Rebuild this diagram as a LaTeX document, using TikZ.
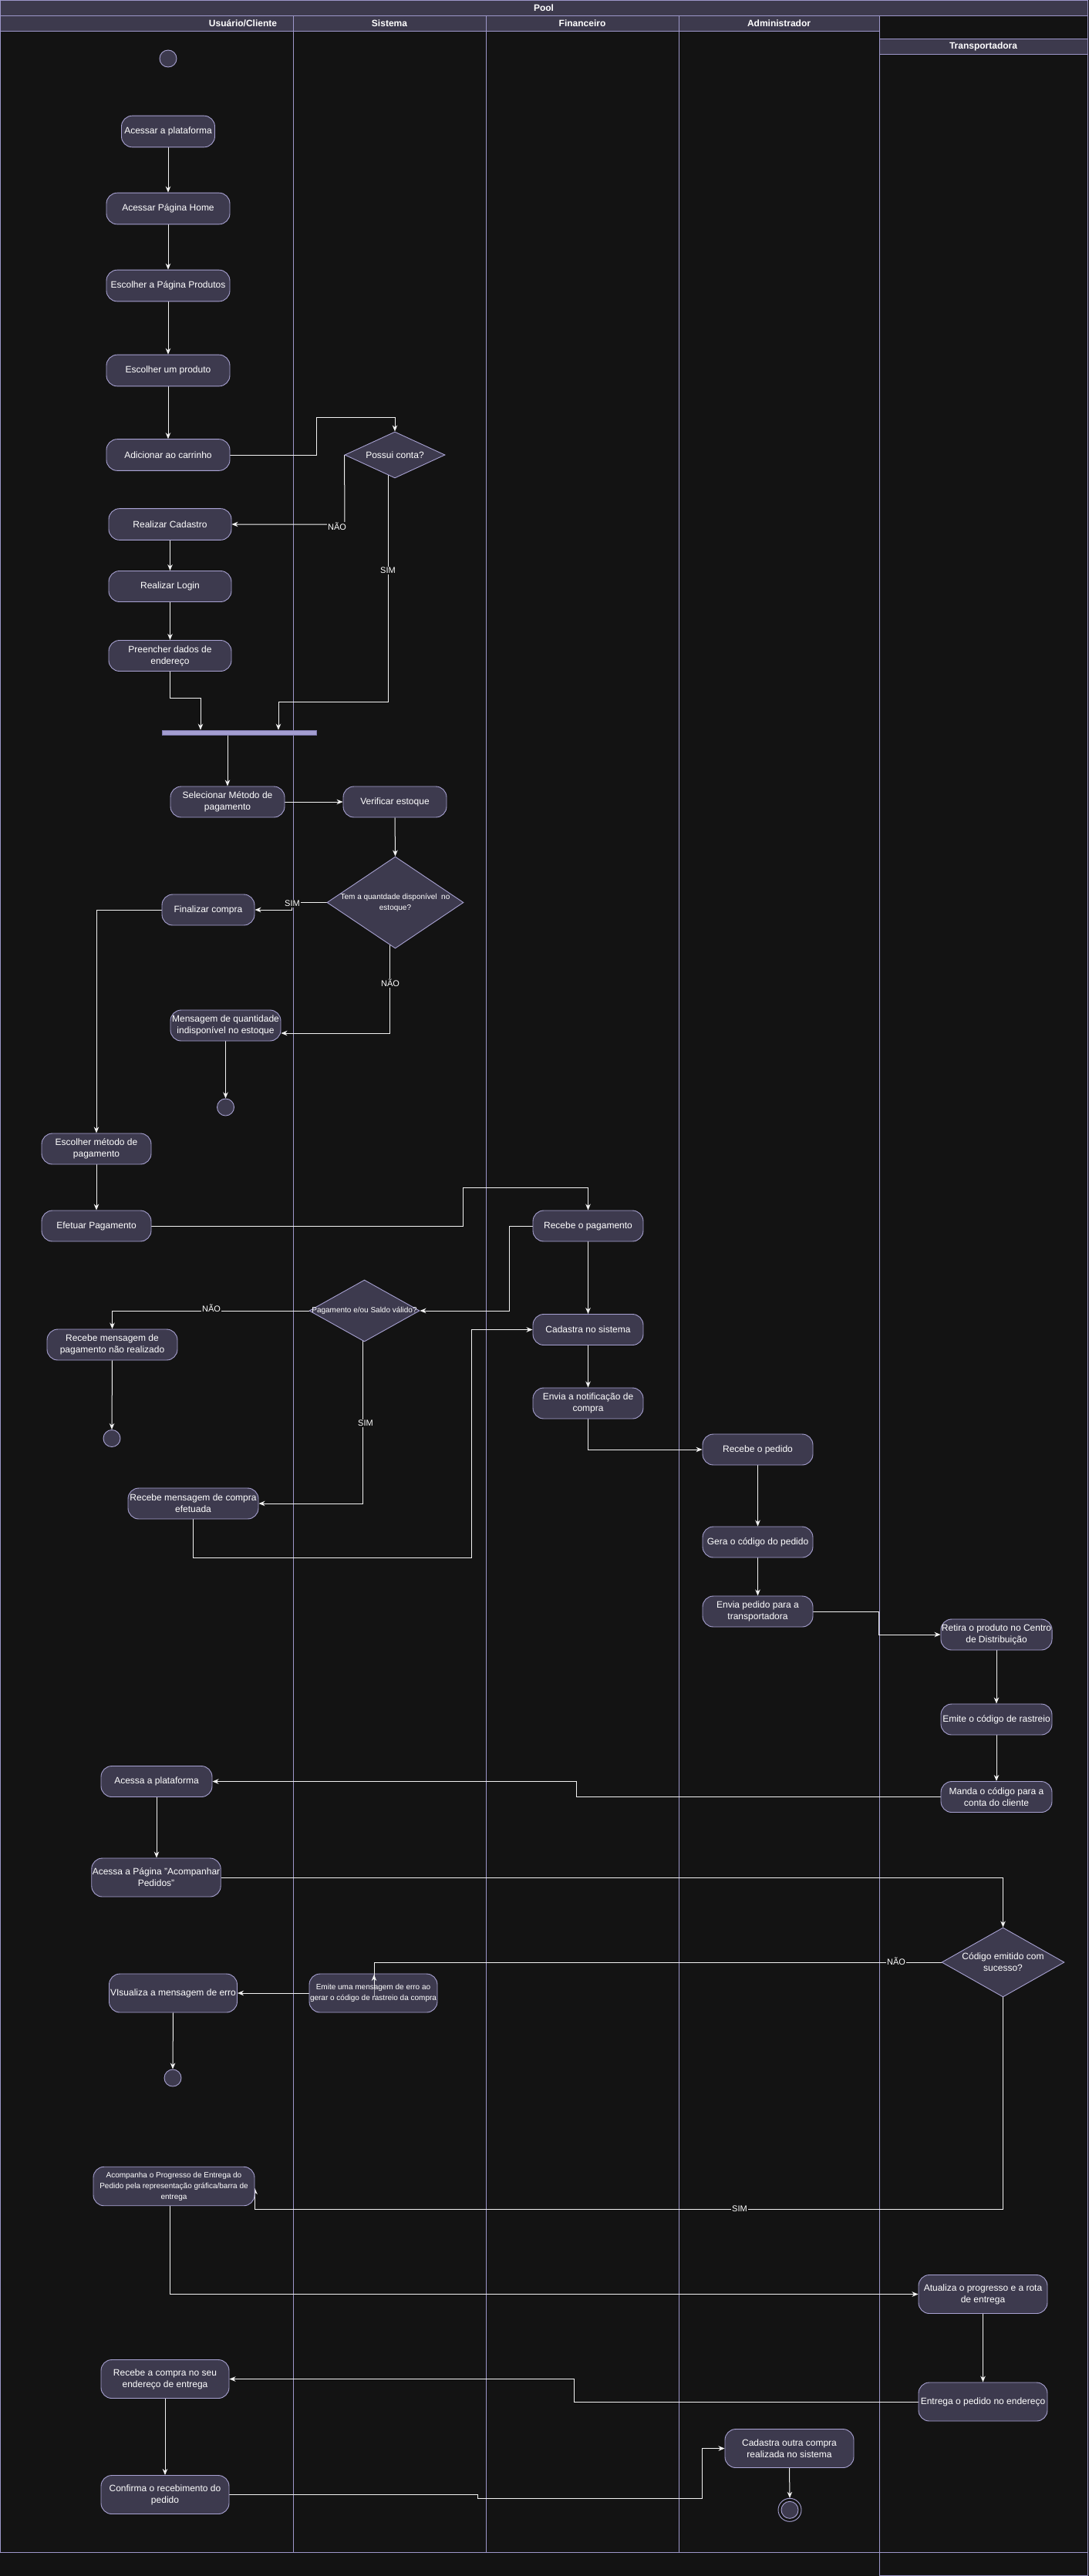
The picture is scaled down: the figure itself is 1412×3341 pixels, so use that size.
\documentclass[tikz,border=0pt]{standalone}
\usepackage{fontspec}
\setmainfont{Liberation Sans}
\usetikzlibrary{shapes.geometric,arrows.meta}
\definecolor{bgc}{HTML}{131313}
\definecolor{hdr}{HTML}{3D3A4D}
\definecolor{lanec}{HTML}{9D97CA}
\definecolor{nodef}{HTML}{3D3A4E}
\definecolor{nodeb}{HTML}{A8A2D2}
\definecolor{arrc}{HTML}{F2F2F2}
\definecolor{barc}{HTML}{A39DD0}
\definecolor{barb}{HTML}{7E78AE}
\pgfdeclarelayer{lanes}
\pgfdeclarelayer{edges}
\pgfsetlayers{lanes,edges,main}
\begin{document}
\begin{tikzpicture}[x=1pt,y=-1pt,
  act/.style={draw=nodeb,fill=nodef,rounded corners=14pt,text=white,align=center,
    font=\fontsize{12}{15}\selectfont,inner sep=1pt,line width=0.9pt},
  smalltxt/.style={font=\fontsize{10}{14}\selectfont},
  dec/.style={diamond,draw=nodeb,fill=nodef,inner sep=0pt,line width=0.9pt},
  dtext/.style={text=white,align=center,inner sep=0pt,font=\fontsize{12}{15}\selectfont},
  dot/.style={circle,draw=nodeb,fill=nodef,minimum size=22pt,inner sep=0pt,line width=0.9pt},
  arr/.style={draw=arrc,line width=1pt,-{Stealth[length=8pt,width=6.5pt,inset=2.5pt]}},
  lbl/.style={fill=bgc,text=white,font=\fontsize{11}{13}\selectfont,inner sep=1pt},
  lanel/.style={draw=lanec,line width=1pt},
  hdrtxt/.style={text=white,font=\bfseries\fontsize{12}{14}\selectfont,inner sep=0pt}]
\useasboundingbox (0,0) rectangle (1412,3341);

% ---------- swimlanes ----------
\begin{pgfonlayer}{lanes}
\fill[bgc] (0,0) rectangle (1412,3341);
\draw[lanel] (0,0) rectangle (1410,3310);
\draw[lanel,fill=hdr] (0,0) rectangle (1410,20.7);
\draw[lanel,fill=hdr] (0,20.7) rectangle (380,40.7);
\draw[lanel,fill=hdr] (380,20.7) rectangle (630,40.7);
\draw[lanel,fill=hdr] (630,20.7) rectangle (880,40.7);
\draw[lanel,fill=hdr] (880,20.7) rectangle (1140,40.7);
\draw[lanel] (380,40.7) -- (380,3310);
\draw[lanel] (630,40.7) -- (630,3310);
\draw[lanel] (880,40.7) -- (880,3310);
\draw[lanel] (1140,20.7) -- (1140,3340);
\draw[lanel,fill=hdr] (1140,50.7) rectangle (1410,70.7);
\draw[lanel] (1140,70.7) rectangle (1410,3340);
\end{pgfonlayer}
\node[hdrtxt] (hpool) at (705,10.3) {Pool};
\node[hdrtxt] (hcli) at (315,30.7) {Usuário/Cliente};
\node[hdrtxt] (hsis) at (505,30.7) {Sistema};
\node[hdrtxt] (hfin) at (755,30.7) {Financeiro};
\node[hdrtxt] (hadm) at (1010,30.7) {Administrador};
\node[hdrtxt] (htra) at (1275,60.7) {Transportadora};

% ---------- nodes ----------
\node[dot] (start1) at (218,76) {};
\node[act,minimum width=121pt,minimum height=40.7pt] (n1) at (218,170.5) {Acessar a plataforma};
\node[act,minimum width=160pt,minimum height=40.7pt] (n2) at (218,270.5) {Acessar Página Home};
\node[act,minimum width=160pt,minimum height=40.7pt] (n3) at (218,370.5) {Escolher a Página Produtos};
\node[act,minimum width=160pt,minimum height=40.7pt] (n4) at (218,480.5) {Escolher um produto};
\node[act,minimum width=160pt,minimum height=40.7pt] (n5) at (218,590) {Adicionar ao carrinho};
\node[dec,minimum width=130pt,minimum height=60pt] (d1) at (512,590) {};
\node[dtext] (d1t) at (d1) {Possui conta?};
\node[act,minimum width=159pt,minimum height=40.7pt] (n6) at (220.5,680) {Realizar Cadastro};
\node[act,minimum width=159pt,minimum height=40pt] (n7) at (220.5,760.5) {Realizar Login};
\node[act,minimum width=159pt,minimum height=40pt] (n8) at (220.5,850.5) {Preencher dados de\\endereço};
\node[fill=barc,draw=barb,minimum width=200pt,minimum height=6.5pt,inner sep=0pt] (bar) at (310,950.2) {};
\node[act,minimum width=148pt,minimum height=40pt] (n9) at (295,1040) {Selecionar Método de\\pagamento};
\node[act,minimum width=134pt,minimum height=40pt] (n10) at (512,1040) {Verificar estoque};
\node[dec,minimum width=177pt,minimum height=119pt] (d2) at (512.5,1170.5) {};
\node[dtext,smalltxt] (d2t) at (d2) {Tem a quantdade disponível\ \ no\\estoque?};
\node[act,minimum width=120pt,minimum height=40pt] (n11) at (270,1180) {Finalizar compra};
\node[act,minimum width=143pt,minimum height=40pt] (n12) at (292.5,1330) {Mensagem de quantidade\\indisponível no estoque};
\node[dot] (end1) at (292.5,1436) {};
\node[act,minimum width=142pt,minimum height=40pt] (n13) at (125,1490) {Escolher método de\\pagamento};
\node[act,minimum width=142pt,minimum height=40pt] (n14) at (125,1590) {Efetuar Pagamento};
\node[act,minimum width=143pt,minimum height=40pt] (n15) at (762.5,1590) {Recebe o pagamento};
\node[dec,minimum width=143pt,minimum height=80pt] (d3) at (472.5,1700) {};
\node[dtext,smalltxt] (d3t) at (d3) {Pagamento e/ou Saldo válido?};
\node[act,minimum width=169pt,minimum height=40pt] (n16) at (145.5,1744) {Recebe mensagem de\\pagamento não realizado};
\node[dot] (end2) at (145,1865.5) {};
\node[act,minimum width=169pt,minimum height=40pt] (n17) at (250.5,1950) {Recebe mensagem de compra\\efetuada};
\node[act,minimum width=143pt,minimum height=40pt] (n18) at (762.5,1724.5) {Cadastra no sistema};
\node[act,minimum width=143pt,minimum height=40pt] (n19) at (762.5,1820) {Envia a notificação de\\compra};
\node[act,minimum width=143pt,minimum height=40pt] (n20) at (982.5,1880) {Recebe o pedido};
\node[act,minimum width=143pt,minimum height=40pt] (n21) at (982.5,2000) {Gera o código do pedido};
\node[act,minimum width=143pt,minimum height=40pt] (n22) at (982.5,2090) {Envia pedido para a\\transportadora};
\node[act,minimum width=144pt,minimum height=40pt] (n23) at (1292,2120) {Retira o produto no Centro\\de Distribuição};
\node[act,minimum width=144pt,minimum height=40pt] (n24) at (1292,2230) {Emite o código de rastreio};
\node[act,minimum width=144pt,minimum height=40pt] (n25) at (1292,2330.5) {Manda o código para a\\conta do cliente};
\node[act,minimum width=144pt,minimum height=40pt] (n26) at (203,2310.5) {Acessa a plataforma};
\node[act,minimum width=167pt,minimum height=50pt] (n27) at (202.5,2435) {Acessa a Página "Acompanhar\\Pedidos"};
\node[dec,minimum width=159pt,minimum height=90pt] (d4) at (1300.5,2545) {};
\node[dtext] (d4t) at (d4) {Código emitido com\\sucesso?};
\node[act,smalltxt,minimum width=166pt,minimum height=50pt] (n28) at (484,2585) {Emite uma mensagem de erro ao\\gerar o código de rastreio da compra};
\node[act,minimum width=166pt,minimum height=50pt] (n29) at (224.5,2585) {VIsualiza a mensagem de erro};
\node[dot] (end3) at (224,2695) {};
\node[act,smalltxt,minimum width=209pt,minimum height=50.5pt] (n30) at (225.5,2835.5) {Acompanha o Progresso de Entrega do\\Pedido pela representação gráfica/barra de\\entrega};
\node[act,minimum width=167pt,minimum height=50pt] (n31) at (1274.5,2975.5) {Atualiza o progresso e a rota\\de entrega};
\node[act,minimum width=167pt,minimum height=50pt] (n32) at (1274.5,3115) {Entrega o pedido no endereço};
\node[act,minimum width=166pt,minimum height=50pt] (n33) at (214,3085.5) {Recebe a compra no seu\\endereço de entrega};
\node[act,minimum width=166pt,minimum height=50pt] (n34) at (214,3235.5) {Confirma o recebimento do\\pedido};
\node[act,minimum width=167pt,minimum height=50pt] (n35) at (1023.5,3175.5) {Cadastra outra compra\\realizada no sistema};
\node[circle,draw=nodeb,line width=0.9pt,minimum size=30pt,inner sep=0pt] (end4) at (1024,3255.3) {};
\node[circle,draw=nodeb,fill=nodef,line width=0.9pt,minimum size=22pt,inner sep=0pt] (end4i) at (end4) {};

% ---------- connectors ----------
\begin{pgfonlayer}{edges}
\draw[arr] (n1.south) -- (n2.north);
\draw[arr] (n2.south) -- (n3.north);
\draw[arr] (n3.south) -- (n4.north);
\draw[arr] (n4.south) -- (n5.north);
\draw[arr] (n5.east) -- (410,590) -- (410,541) -| (d1.north);
\draw[arr] (d1.west) -- (447,680) -- (n6.east);
\draw[arr] (n6.south) -- (n7.north);
\draw[arr] (n7.south) -- (n8.north);
\draw[arr] (n8.south) -- (220.5,905) -- (260,905) -- (bar.north -| 260,0);
\draw[arr] (503,600) -- (503,910) -- (361,910) -- (bar.north -| 361,0);
\draw[arr] (bar.south -| n9.north) -- (n9.north);
\draw[arr] (n9.east) -- (n10.west);
\draw[arr] (n10.south) -- (d2.north);
\draw[arr] (d2.west) -- (378,1170.5) -- (378,1180) -- (n11.east);
\draw[arr] (505,1200) -- (505,1340) -- (n12.east |- 0,1340);
\draw[arr] (n12.south) -- (end1.north);
\draw[arr] (n11.west) -| (n13.north);
\draw[arr] (n13.south) -- (n14.north);
\draw[arr] (n14.east) -- (600,1590) -- (600,1540.6) -| (n15.north);
\draw[arr] (n15.west) -- (660,1590) -- (660,1700) -- (d3.east);
\draw[arr] (d3.west) -| (n16.north);
\draw[arr] (n16.south) -- (end2.north);
\draw[arr] (470,1720) -- (470,1950) -- (n17.east);
\draw[arr] (n17.south) -- (250.5,2020.5) -- (611,2020.5) -- (611,1724.5) -- (n18.west);
\draw[arr] (n15.south) -- (n18.north);
\draw[arr] (n18.south) -- (n19.north);
\draw[arr] (n19.south) |- (n20.west);
\draw[arr] (n20.south) -- (n21.north);
\draw[arr] (n21.south) -- (n22.north);
\draw[arr] (n22.east) -- (1139,2090) -- (1139,2120) -- (n23.west);
\draw[arr] (n23.south) -- (n24.north);
\draw[arr] (n24.south) -- (n25.north);
\draw[arr] (n25.west) -- (747,2330.5) -- (747,2310.5) -- (n26.east);
\draw[arr] (n26.south) -- (n26.south |- n27.north);
\draw[arr] (n27.east) -| (d4.north);
\draw[arr] (n28.west) -- (n29.east);
\draw[arr] (n29.south) -- (end3.north);
\draw[arr] (d4.south) -- (1300.5,2865.6) -- (330.5,2865.6) -- (330.5,2838);
\draw[arr] (n30.south -| 220.6,0) -- (220.6,2975.5) -- (n31.west);
\draw[arr] (n31.south) -- (n32.north);
\draw[arr] (n32.west) -- (744,3115) -- (744,3085.5) -- (n33.east);
\draw[arr] (n33.south) -- (n34.north);
\draw[arr] (n34.east) -- (619.6,3235.5) -- (619.6,3240.4) -- (910,3240.4) -- (910,3175.5) -- (n35.west);
\draw[arr] (n35.south) -- (end4.north);
\end{pgfonlayer}
\draw[arr] (d4.west) -- (485,2545) -- (485,2590) -- (485,2561);

% ---------- edge labels ----------
\node[lbl] (l1) at (437,683) {NÃO};
\node[lbl] (l2) at (503,740) {SIM};
\node[lbl] (l3) at (379,1172) {SIM};
\node[lbl] (l4) at (506,1275) {NÃO};
\node[lbl] (l5) at (274,1697) {NÃO};
\node[lbl] (l6) at (474,1846) {SIM};
\node[lbl] (l7) at (1162,2544) {NÃO};
\node[lbl] (l8) at (959,2865) {SIM};
\end{tikzpicture}
\end{document}
